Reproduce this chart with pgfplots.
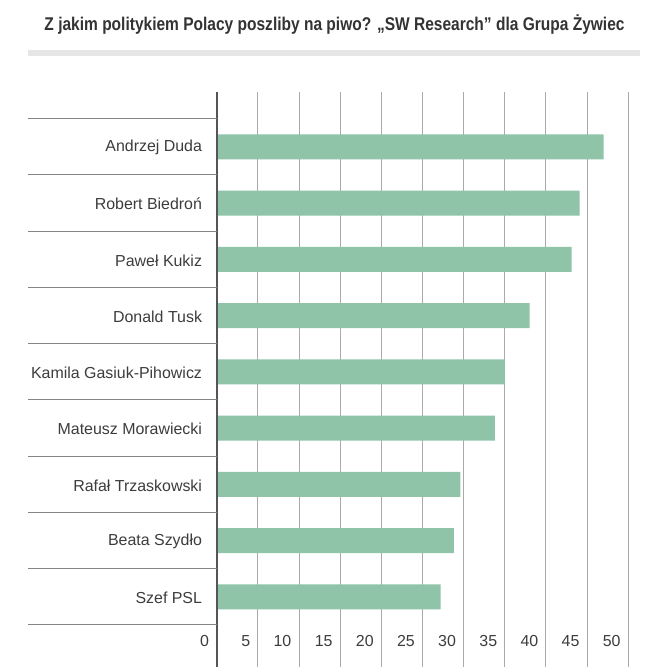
\documentclass[border=0pt]{standalone}
\usepackage{pgfplots}
\pgfplotsset{compat=1.18}
\usepackage{fontspec}
\setmainfont{Liberation Sans}
\definecolor{barc}{HTML}{8FC4A9}
\definecolor{gridc}{HTML}{AAAAAA}
\definecolor{sepc}{HTML}{858585}
\definecolor{axc}{HTML}{555555}
\definecolor{txtc}{HTML}{3C3C3C}
\definecolor{titc}{HTML}{333333}
\definecolor{bandc}{HTML}{E6E6E6}
\begin{document}
\begin{tikzpicture}[x=1bp,y=1bp]
\path[use as bounding box] (0,0) rectangle (669,667);
\fill[bandc] (28,611) rectangle (640,617);
\node[anchor=base, inner sep=0pt, text=titc] at (334.5,636)
  {\resizebox{580bp}{\height}{\fontsize{18.5}{21}\selectfont\bfseries Z jakim politykiem Polacy poszliby na piwo? „SW Research” dla Grupa Żywiec}};
\begin{axis}[
  at={(216.7bp,0bp)}, anchor=south west,
  scale only axis, width=411.6bp, height=575.2bp,
  xmin=0, xmax=50, ymin=-1.2467, ymax=8.978,
  clip=false,
  axis line style={draw=none},
  tick style={draw=none},
  major tick length=0pt,
  xtick={0,5,...,50},
  ytick={0,...,8},
  yticklabels={Szef PSL, Beata Szydło, Rafał Trzaskowski, Mateusz Morawiecki, Kamila Gasiuk-Pihowicz, Donald Tusk, Paweł Kukiz, Robert Biedroń, Andrzej Duda},
  xmajorgrids, major grid style={gridc, line width=1bp},
  /pgf/number format/assume math mode=true,
  xticklabel style={anchor=east, inner sep=0pt, xshift=-7.5bp, yshift=25.5bp, font=\fontsize{16}{18}\selectfont, text=txtc},
  yticklabel style={anchor=east, inner sep=0pt, xshift=-14.5bp, yshift=-1bp, font=\fontsize{16}{18}\selectfont, text=txtc},
  xbar, bar width=25bp,
]
\addplot[fill=barc, draw=none] coordinates {
  (27.2,0) (28.8,1) (29.6,2) (33.8,3) (35,4) (38,5) (43.1,6) (44.1,7) (47,8)
};
\draw[axc, line width=1.8bp] (axis cs:0,-1.2467) -- (axis cs:0,8.978);
\draw[sepc, line width=1bp] (axis cs:-22.92,-0.5) -- (axis cs:0,-0.5);
\draw[sepc, line width=1bp] (axis cs:-22.92,0.5) -- (axis cs:0,0.5);
\draw[sepc, line width=1bp] (axis cs:-22.92,1.5) -- (axis cs:0,1.5);
\draw[sepc, line width=1bp] (axis cs:-22.92,2.5) -- (axis cs:0,2.5);
\draw[sepc, line width=1bp] (axis cs:-22.92,3.5) -- (axis cs:0,3.5);
\draw[sepc, line width=1bp] (axis cs:-22.92,4.5) -- (axis cs:0,4.5);
\draw[sepc, line width=1bp] (axis cs:-22.92,5.5) -- (axis cs:0,5.5);
\draw[sepc, line width=1bp] (axis cs:-22.92,6.5) -- (axis cs:0,6.5);
\draw[sepc, line width=1bp] (axis cs:-22.92,7.5) -- (axis cs:0,7.5);
\draw[sepc, line width=1bp] (axis cs:-22.92,8.5) -- (axis cs:0,8.5);
\end{axis}
\end{tikzpicture}
\end{document}
